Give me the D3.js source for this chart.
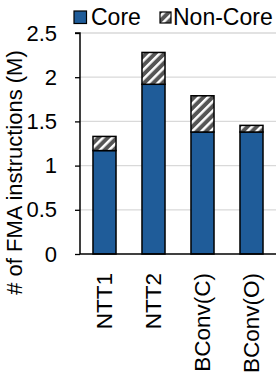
<!DOCTYPE html>
<html><head><meta charset="utf-8">
<script src="https://cdn.jsdelivr.net/npm/d3@7"></script>
<style>
html,body{margin:0;padding:0;background:#fff;}
svg{display:block;}
text{font-family:"Liberation Sans",Arial,sans-serif;fill:#000;}
</style></head>
<body>
<svg id="chart" width="278" height="378"></svg>
<script>
const categories = ["NTT1", "NTT2", "BConv(C)", "BConv(O)"];
const coreValues = [1.17, 1.92, 1.38, 1.38];
const nonCoreValues = [0.16, 0.36, 0.41, 0.075];
const yTicks = [0, 0.5, 1, 1.5, 2, 2.5];
const seriesNames = ["Core", "Non-Core"];
const yLabel = "# of FMA instructions (M)";

(function(){
const svg = d3.select("#chart");
const pLeft = 80, pRight = 276, pTop = 33, pBottom = 254;
const fs = 22;

const defs = svg.append("defs");
const pat = defs.append("pattern").attr("id","hatch").attr("patternUnits","userSpaceOnUse")
  .attr("width",6.5).attr("height",6.5).attr("patternTransform","rotate(45)");
pat.append("rect").attr("width",6.5).attr("height",6.5).attr("fill","#555");
pat.append("rect").attr("x",0).attr("width",2.5).attr("height",6.5).attr("fill","#fff");

const x = d3.scaleBand().domain(categories).range([pLeft, pRight]).paddingInner(0.53).paddingOuter(0.265);
const y = d3.scaleLinear().domain([0, 2.5]).range([pBottom, pTop]);

// gridlines
svg.append("g").selectAll("line").data(yTicks.filter(d=>d>0)).join("line")
  .attr("x1", pLeft).attr("x2", pRight).attr("y1", d=>y(d)).attr("y2", d=>y(d))
  .attr("stroke", "#d9d9d9").attr("stroke-width", 1.3);

// bars
const data = categories.map((c,i)=>({c, core: coreValues[i], non: nonCoreValues[i]}));
const g = svg.append("g");
g.selectAll("rect.core").data(data).join("rect").attr("class","core")
  .attr("x", d=>x(d.c)).attr("width", x.bandwidth())
  .attr("y", d=>y(d.core)).attr("height", d=>y(0)-y(d.core))
  .attr("fill","#1f5c99").attr("stroke","#000").attr("stroke-width",1.5);
g.selectAll("rect.non").data(data).join("rect").attr("class","non")
  .attr("x", d=>x(d.c)).attr("width", x.bandwidth())
  .attr("y", d=>y(d.core+d.non)).attr("height", d=>y(d.core)-y(d.core+d.non))
  .attr("fill","url(#hatch)").attr("stroke","#000").attr("stroke-width",1.5);

// y axis
const ya = svg.append("g").attr("transform",`translate(${pLeft},0)`)
  .call(d3.axisLeft(y).tickValues(yTicks).tickFormat(d=>String(d)).tickSize(5).tickPadding(18));
ya.select(".domain").attr("stroke","#000").attr("stroke-width",1.5).attr("d",`M-5,${pTop}H0V${pBottom}`);
ya.selectAll(".tick line").attr("stroke","#000").attr("stroke-width",1.3);
ya.selectAll(".tick text").attr("font-size",fs).style("font-family","'Liberation Sans',Arial,sans-serif").attr("fill","#000");

// x axis
const xa = svg.append("g").attr("transform",`translate(0,${pBottom})`)
  .call(d3.axisBottom(x).tickSize(0).tickPadding(0));
xa.select(".domain").attr("stroke","#000").attr("stroke-width",1.5).attr("d",`M${pLeft},0H${pRight}`);
xa.selectAll(".tick text").attr("font-size",22.5).style("font-family","'Liberation Sans',Arial,sans-serif")
  .attr("fill","#000").attr("text-anchor","end").attr("dy","0.35em")
  .attr("transform","translate(0,19) rotate(-90)").attr("x",0).attr("y",0);

// y label
svg.append("text").attr("transform",`translate(22,172.5) rotate(-90)`)
  .attr("text-anchor","middle").attr("font-size",fs).text(yLabel);

// legend
const lg = svg.append("g");
lg.append("rect").attr("x",74).attr("y",11).attr("width",12.5).attr("height",12.5)
  .attr("fill","#1f5c99").attr("stroke","#000").attr("stroke-width",1.2);
lg.append("text").attr("x",91).attr("y",24.5).attr("font-size",23).text(seriesNames[0]);
lg.append("rect").attr("x",160).attr("y",12).attr("width",11).attr("height",11)
  .attr("fill","url(#hatch)").attr("stroke","#000").attr("stroke-width",1.2);
lg.append("text").attr("x",173).attr("y",24.5).attr("font-size",23).text(seriesNames[1]);
})();
</script>
</body></html>
